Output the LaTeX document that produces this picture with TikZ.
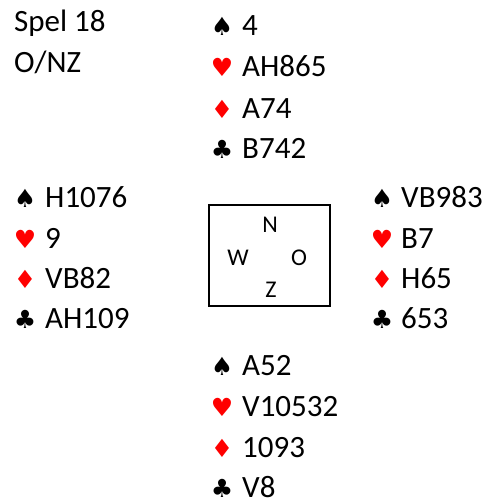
\documentclass[tikz,border=0pt]{standalone}
\usepackage{fontspec}
\setmainfont{Carlito}
\newfontfamily\suitfont{DejaVu Sans}
\begin{document}
\begin{tikzpicture}[x=1pt,y=-1pt,
  txt/.style={anchor=base west,inner sep=0pt,text depth=0pt,font=\fontsize{31}{31}\selectfont},
  lbl/.style={anchor=base,inner sep=0pt,text depth=0pt,font=\fontsize{24}{24}\selectfont},
  suit/.style={anchor=base,inner sep=0pt,text depth=0pt,font=\suitfont\fontsize{25}{25}\selectfont},
  blk/.style={suit,text=black},
  rd/.style={suit,text=red}]
\useasboundingbox (0,0) rectangle (487,503);
% title
\node[txt] (t1) at (14,32) {Spel 18};
\node[txt] (t2) at (14,72) {O/NZ};
% North
\node[blk] (ns) at (222,36) {♠}; \node[txt] (nst) at (242,36) {4};
\node[rd]  (nh) at (222,77) {♥}; \node[txt] (nht) at (242,77) {AH865};
\node[rd]  (nd) at (222,118) {♦}; \node[txt] (ndt) at (242,118) {A74};
\node[blk] (nc) at (222,158) {♣}; \node[txt] (nct) at (242,158) {B742};
% West
\node[blk] (ws) at (25,207) {♠}; \node[txt] (wst) at (45,207) {H1076};
\node[rd]  (wh) at (25,248) {♥}; \node[txt] (wht) at (45,248) {9};
\node[rd]  (wd) at (25,288) {♦}; \node[txt] (wdt) at (45,288) {VB82};
\node[blk] (wc) at (25,328) {♣}; \node[txt] (wct) at (45,328) {AH109};
% East
\node[blk] (es) at (382,207) {♠}; \node[txt] (est) at (401,207) {VB983};
\node[rd]  (eh) at (382,248) {♥}; \node[txt] (eht) at (401,248) {B7};
\node[rd]  (ed) at (382,288) {♦}; \node[txt] (edt) at (401,288) {H65};
\node[blk] (ec) at (382,328) {♣}; \node[txt] (ect) at (401,328) {653};
% South
\node[blk] (ss) at (222,375) {♠}; \node[txt] (sst) at (242,375) {A52};
\node[rd]  (sh) at (222,416) {♥}; \node[txt] (sht) at (242,416) {V10532};
\node[rd]  (sd) at (222,457) {♦}; \node[txt] (sdt) at (242,457) {1093};
\node[blk] (sc) at (222,497) {♣}; \node[txt] (sct) at (242,497) {V8};
% compass box
\draw[line width=1.8pt] (209,205) rectangle (330,306);
\node[lbl] (bn) at (270,232) {N};
\node[lbl] (bw) at (238,265) {W};
\node[lbl] (bo) at (299,265) {O};
\node[lbl] (bz) at (271,297) {Z};
\end{tikzpicture}
\end{document}
